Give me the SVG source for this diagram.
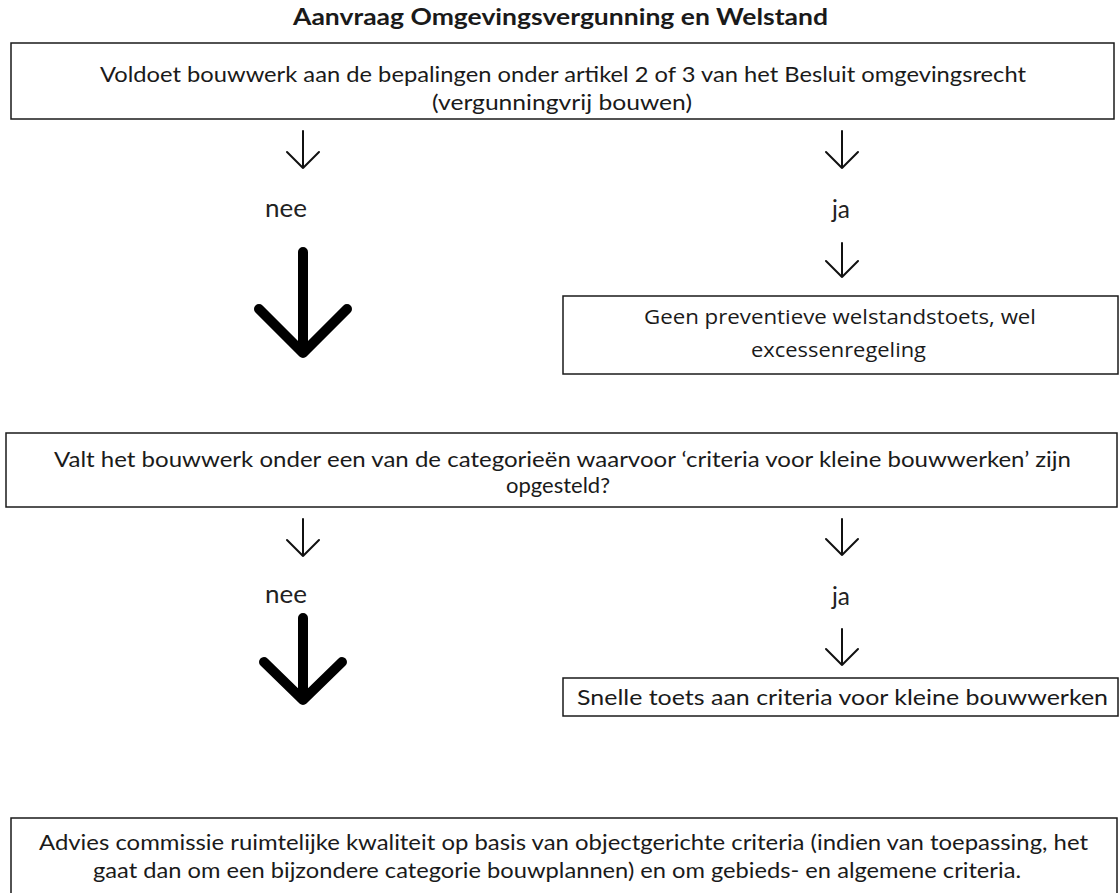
<svg xmlns="http://www.w3.org/2000/svg" width="1119" height="893" viewBox="0 0 1119 893">
<style>
.box{fill:#fff;stroke:#1a1a1a;stroke-width:1.5}
.t{font-family:Lato,"Open Sans","Liberation Sans",sans-serif;font-size:21px;fill:#1a1a1a}
.w{font-family:"Open Sans","Liberation Sans",sans-serif;font-size:20px;fill:#1a1a1a}
.lbl{font-family:Lato,"Open Sans","Liberation Sans",sans-serif;font-size:25px;fill:#222}
.thin{fill:none;stroke:#111;stroke-width:2;stroke-linecap:round;stroke-linejoin:round}
.thick{fill:none;stroke:#000;stroke-width:10;stroke-linecap:round;stroke-linejoin:round}
</style>
<rect width="1119" height="893" fill="#fff"/>
<text id="title" x="293" y="25" class="t" style="font-weight:bold;font-size:22px" textLength="535" lengthAdjust="spacingAndGlyphs">Aanvraag Omgevingsvergunning en Welstand</text>
<g id="q1">
<rect class="box" x="11" y="43" width="1103" height="76"/>
<text class="t" x="100" y="82" textLength="926" lengthAdjust="spacingAndGlyphs">Voldoet bouwwerk aan de bepalingen onder artikel 2 of 3 van het Besluit omgevingsrecht</text>
<text class="t" x="432" y="110" textLength="260" lengthAdjust="spacingAndGlyphs">(vergunningvrij bouwen)</text>
</g>
<g id="r1">
<rect class="box" x="563" y="296" width="555" height="78"/>
<text class="w" x="644" y="324" textLength="392" lengthAdjust="spacingAndGlyphs">Geen preventieve welstandstoets, wel</text>
<text class="w" x="751" y="357" textLength="175" lengthAdjust="spacingAndGlyphs">excessenregeling</text>
</g>
<g id="q2">
<rect class="box" x="6" y="433" width="1111" height="74"/>
<text class="t" x="54" y="467" textLength="1017" lengthAdjust="spacingAndGlyphs">Valt het bouwwerk onder een van de categorieën waarvoor ‘criteria voor kleine bouwwerken’ zijn</text>
<text class="t" x="506" y="493" textLength="104" lengthAdjust="spacingAndGlyphs">opgesteld?</text>
</g>
<g id="r2">
<rect class="box" x="563" y="678" width="555" height="38"/>
<text class="t" x="577" y="705" style="font-size:22px" textLength="531" lengthAdjust="spacingAndGlyphs">Snelle toets aan criteria voor kleine bouwwerken</text>
</g>
<g id="advies">
<rect class="box" x="11" y="818" width="1106" height="80"/>
<text class="t" x="39" y="850" textLength="1049" lengthAdjust="spacingAndGlyphs">Advies commissie ruimtelijke kwaliteit op basis van objectgerichte criteria (indien van toepassing, het</text>
<text class="t" x="93" y="878" textLength="928" lengthAdjust="spacingAndGlyphs">gaat dan om een bijzondere categorie bouwplannen) en om gebieds- en algemene criteria.</text>
</g>
<g id="connectors">
<path class="thin" d="M303 131V168M287 152L303 168L319 152"/>
<path class="thin" d="M842 131V168M826 152L842 168L858 152"/>
<path class="thin" d="M842 243V277M826 261L842 277L858 261"/>
<path class="thick" d="M303 252V353M259 309L303 353L347 309"/>
<path class="thin" d="M303 519V556M287 540L303 556L319 540"/>
<path class="thin" d="M842 519V555M826 539L842 555L858 539"/>
<path class="thin" d="M842 629V665M826 649L842 665L858 649"/>
<path class="thick" d="M303 618V699M264 662L303 700L342 662"/>
</g>
<g id="labels">
<text class="lbl" x="265" y="217" textLength="42" lengthAdjust="spacingAndGlyphs">nee</text>
<text class="lbl" x="832" y="218" textLength="18" lengthAdjust="spacingAndGlyphs">ja</text>
<text class="lbl" x="265" y="603" textLength="42" lengthAdjust="spacingAndGlyphs">nee</text>
<text class="lbl" x="832" y="605" textLength="18" lengthAdjust="spacingAndGlyphs">ja</text>
</g>
</svg>
